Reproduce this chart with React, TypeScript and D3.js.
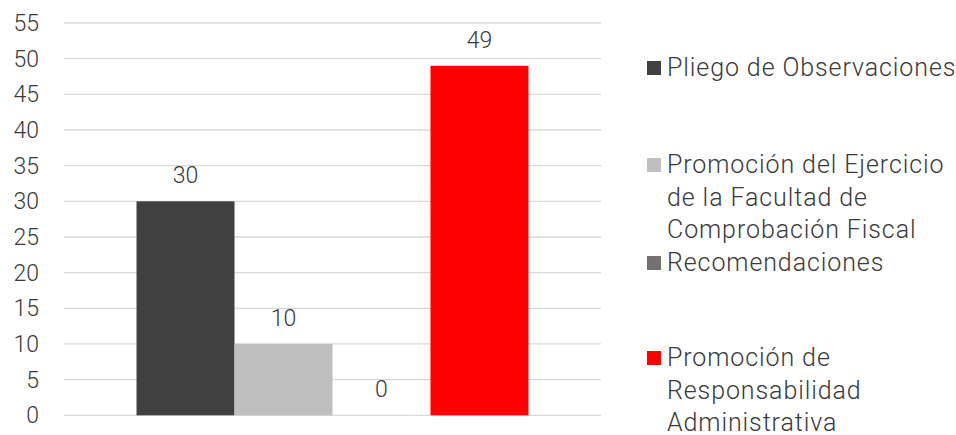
import * as d3 from "d3";

const categories = ["Total"];
const seriesNames = [
  "Pliego de Observaciones",
  "Promoción del Ejercicio de la Facultad de Comprobación Fiscal",
  "Recomendaciones",
  "Promoción de Responsabilidad Administrativa",
];
const seriesValues = [30, 10, 0, 49];
const legendLines = [
  ["Pliego de Observaciones"],
  ["Promoción del Ejercicio", "de la Facultad de", "Comprobación Fiscal"],
  ["Recomendaciones"],
  ["Promoción de", "Responsabilidad", "Administrativa"],
];
const yTicks = [0, 5, 10, 15, 20, 25, 30, 35, 40, 45, 50, 55];

const COLORS = ["#404040", "#bfbfbf", "#767171", "#ff0000"];
const WIDTH = 956;
const HEIGHT = 435;
const PLOT = { left: 64, right: 601, top: 23, bottom: 415.3 };
const LEGEND_X = 647;
const LEGEND_Y = [76, 173, 271, 366];
const LINE_H = 32.5;
const FONT = "Roboto, 'Noto Sans', sans-serif";
const TEXT = "#3a3a3a";

export default function App() {
  const y = d3.scaleLinear().domain([0, 55]).range([PLOT.bottom, PLOT.top]);
  const x0 = d3
    .scaleBand()
    .domain(categories)
    .range([PLOT.left, PLOT.right])
    .paddingInner(0)
    .paddingOuter(0.185);
  const x1 = d3
    .scaleBand()
    .domain(seriesNames)
    .range([0, x0.bandwidth()])
    .padding(0);

  return (
    <svg
      width={WIDTH}
      height={HEIGHT}
      style={{ position: "absolute", left: 0, top: 0, background: "#fff" }}
      fontFamily={FONT}
      fontWeight={300}
    >
      <g>
        {yTicks.map((t) => (
          <g key={t}>
            <line
              x1={PLOT.left}
              x2={PLOT.right}
              y1={y(t)}
              y2={y(t)}
              stroke="#d9d9d9"
              strokeWidth={1.3}
            />
            <text
              x={39}
              y={y(t) + 8}
              textAnchor="end"
              fontSize={23}
              fill={TEXT}
            >
              {t}
            </text>
          </g>
        ))}
      </g>
      {categories.map((c) => (
        <g key={c} transform={`translate(${x0(c)},0)`}>
          {seriesNames.map((s, i) => {
            const v = seriesValues[i];
            const bx = x1(s)!;
            return (
              <g key={s}>
                <rect
                  x={bx}
                  width={x1.bandwidth()}
                  y={y(v)}
                  height={y(0) - y(v)}
                  fill={COLORS[i]}
                />
                <text
                  x={bx + x1.bandwidth() / 2}
                  y={y(v) - 18}
                  textAnchor="middle"
                  fontSize={23}
                  fill={TEXT}
                >
                  {v}
                </text>
              </g>
            );
          })}
        </g>
      ))}
      <g>
        {legendLines.map((lines, i) => (
          <g key={i}>
            <rect
              x={LEGEND_X}
              y={LEGEND_Y[i] - 15}
              width={14}
              height={14}
              fill={COLORS[i]}
            />
            {lines.map((l, j) => (
              <text
                key={j}
                x={LEGEND_X + 20}
                y={LEGEND_Y[i] + j * LINE_H}
                fontSize={25}
                letterSpacing={0.9}
                fill={TEXT}
              >
                {l}
              </text>
            ))}
          </g>
        ))}
      </g>
    </svg>
  );
}
